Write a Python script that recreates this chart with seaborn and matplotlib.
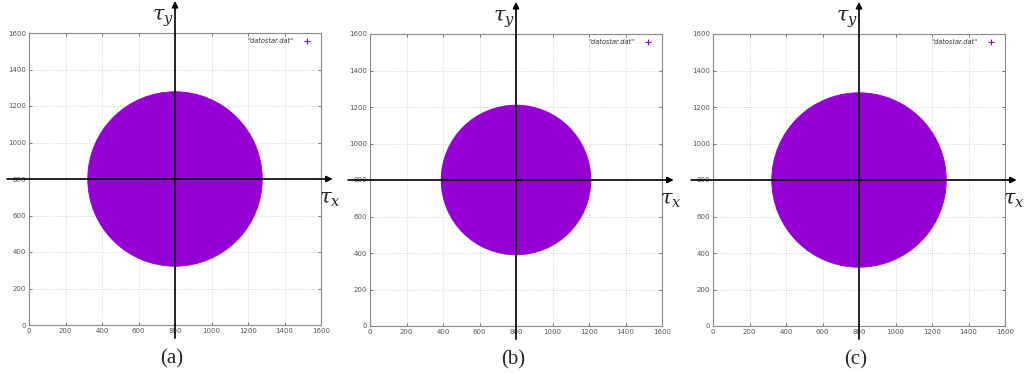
import matplotlib
matplotlib.use("Agg")
import matplotlib.pyplot as plt
import matplotlib.transforms as mtransforms
from matplotlib.patches import Circle
from matplotlib.lines import Line2D
import seaborn as sns

# ---- data ----
panel_labels = ["(a)", "(b)", "(c)"]
center_x = [800, 800, 800]
center_y = [800, 800, 800]
radius = [478, 410, 478]
tick_values = [0, 200, 400, 600, 800, 1000, 1200, 1400, 1600]
legend_label = '"datostar.dat"'

sns.set_style("ticks")
plt.rcParams["mathtext.fontset"] = "dejavuserif"

W, H = 1024, 373
fig = plt.figure(figsize=(W / 100, H / 100), dpi=100)

# axes boxes in pixels: left, top(px from top)
boxes = [(29, 33), (370, 34), (713, 34)]
size = 292
fill = "#9400D3"

for i, (lx, ty) in enumerate(boxes):
    ax = fig.add_axes([lx / W, (H - ty - size) / H, size / W, size / H])
    ax.set_xlim(0, 1600)
    ax.set_ylim(0, 1600)
    ax.set_xticks(tick_values)
    ax.set_yticks(tick_values)
    ax.set_xticklabels([str(v) for v in tick_values])
    ax.set_yticklabels([str(v) for v in tick_values])
    ax.tick_params(direction="in", length=2.5, width=0.5, labelsize=5,
                   labelcolor="#555555", color="#444444",
                   top=True, right=True, pad=2)
    ax.grid(True, linestyle=":", linewidth=0.6, color="#c8c8c8")
    for sp in ax.spines.values():
        sp.set_color("#888888")
        sp.set_linewidth(0.8)
    ax.set_axisbelow(True)

    disk = Circle((center_x[i], center_y[i]), radius[i], facecolor=fill,
                  edgecolor=fill, linewidth=0.6, zorder=2)
    ax.add_patch(disk)

    handle = Line2D([], [], linestyle="none", marker="+", color=fill,
                    markersize=4, markeredgewidth=0.8)
    leg = ax.legend([handle], [legend_label], loc="upper right", frameon=False,
                    fontsize=4.8, handlelength=1.2, borderaxespad=0.4,
                    bbox_to_anchor=(0.985, 1.0),
                    handletextpad=1.4, markerfirst=False)
    for t in leg.get_texts():
        t.set_color("#333333")
        t.set_style("italic")

    # coordinate axes through the centre, with arrows
    bt_x = mtransforms.blended_transform_factory(ax.transData, ax.transAxes)
    bt_y = mtransforms.blended_transform_factory(ax.transAxes, ax.transData)
    ax.annotate("", xy=(center_x[i], 1.11), xycoords=bt_x,
                xytext=(center_x[i], -0.045), textcoords=bt_x,
                arrowprops=dict(arrowstyle="-|>", color="black", lw=1.2,
                                mutation_scale=9, shrinkA=0, shrinkB=0),
                annotation_clip=False, zorder=5)
    ax.annotate("", xy=(1.04, center_y[i]), xycoords=bt_y,
                xytext=(-0.075, center_y[i]), textcoords=bt_y,
                arrowprops=dict(arrowstyle="-|>", color="black", lw=1.2,
                                mutation_scale=9, shrinkA=0, shrinkB=0),
                annotation_clip=False, zorder=5)

    ax.annotate(r"$\tau_y$", xy=(center_x[i], 1.05), xycoords=bt_x,
                xytext=(-12, 0), textcoords="offset pixels",
                ha="center", va="center", fontsize=15, annotation_clip=False)
    ax.text(1.03, 0.43, r"$\tau_x$", transform=ax.transAxes,
            ha="center", va="center", fontsize=15, clip_on=False)

    ax.text(0.49, -0.115, panel_labels[i], transform=ax.transAxes,
            ha="center", va="center", fontsize=15,
            family="Liberation Serif", clip_on=False)

fig.savefig("out.png", dpi=100)
